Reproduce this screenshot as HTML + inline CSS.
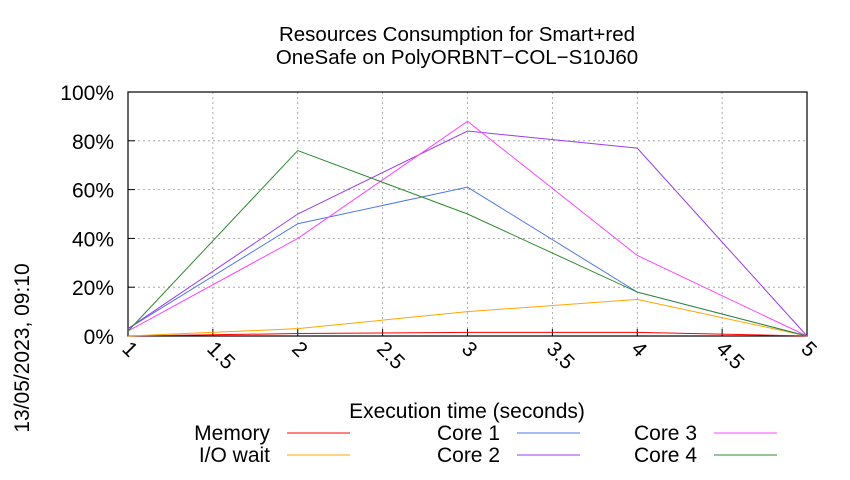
<!DOCTYPE html>
<html><head><meta charset="utf-8"><style>
body{margin:0;background:#fff}
svg text{font-family:"Liberation Sans",sans-serif;fill:#000}
</style></head><body>
<svg width="850" height="475" viewBox="0 0 850 475">
<text x="457" y="41" font-size="20.5" text-anchor="middle">Resources Consumption for Smart+red</text>
<text x="457" y="64" font-size="20.5" text-anchor="middle">OneSafe on PolyORBNT−COL−S10J60</text>
<text transform="translate(29,348) rotate(-90)" font-size="21" text-anchor="middle">13/05/2023, 09:10</text>
<text x="467" y="418" font-size="21" text-anchor="middle">Execution time (seconds)</text>
<g id="grid"></g><g id="axes"></g><g id="series"></g><g id="legend"></g>
</svg>
<script>
const xTicks=[1,1.5,2,2.5,3,3.5,4,4.5,5];
const yTicks=[0,20,40,60,80,100];
const xs=[1,2,3,4,5];
const seriesNames=["Memory","I/O wait","Core 1","Core 2","Core 3","Core 4"];
const seriesColors=["#ff0000","#ffa500","#4f78e8","#9a3cf0","#ff44ff","#2e8b2e"];
const memory=[0,1,1.5,1.5,0];
const ioWait=[0,3,10,15,0];
const core1=[3,46,61,18,0];
const core2=[3,50,84,77,0];
const core3=[2,40,88,33,0];
const core4=[2,76,50,18,0];
const allSeries=[memory,ioWait,core1,core2,core3,core4];
const L=128,R=807,T=92,B=336;
const sx=v=>L+(v-1)/(5-1)*(R-L);
const sy=v=>B-v/100*(B-T);
const NS="http://www.w3.org/2000/svg";
function mk(t,a,p){const e=document.createElementNS(NS,t);for(const k in a)e.setAttribute(k,a[k]);p.appendChild(e);return e;}
const grid=document.getElementById('grid'),axes=document.getElementById('axes'),ser=document.getElementById('series'),leg=document.getElementById('legend');
xTicks.forEach(v=>{
 const g=mk('line',{x1:sx(v),x2:sx(v),y1:T,y2:B,stroke:'#999','stroke-dasharray':'2,3','stroke-width':0.8},grid);
 
 
 const tk=mk('line',{x1:sx(v),x2:sx(v),y1:B,y2:B-7,stroke:'#000','stroke-width':1},axes);
 
 
 const t=mk('text',{transform:`translate(${sx(v)-7},${B+14}) rotate(45)`,'font-size':21},axes);
 t.textContent=v;
 
 
});
yTicks.forEach(v=>{
 const g=mk('line',{x1:L,x2:R,y1:sy(v),y2:sy(v),stroke:'#999','stroke-dasharray':'2,3','stroke-width':0.8},grid);
 
 
 const tk=mk('line',{x1:L,x2:L+7,y1:sy(v),y2:sy(v),stroke:'#000','stroke-width':1},axes);
 
 
 const t=mk('text',{x:L-14,y:sy(v)+8,'font-size':21,'text-anchor':'end'},axes);
 t.textContent=v+'%';
 
 
});
const frame=mk('rect',{x:L,y:T,width:R-L,height:B-T,fill:'none',stroke:'#000','stroke-width':1.2},axes);


allSeries.forEach((d,i)=>{
 const p=mk('polyline',{points:d.map((v,j)=>sx(xs[j])+','+sy(v)).join(' '),fill:'none',stroke:seriesColors[i],'stroke-width':1},ser);
 
 
});
const legPos=[[270,433],[270,455],[500,433],[500,455],[697,433],[697,455]];
seriesNames.forEach((n,i)=>{
 const [x,y]=legPos[i];
 const t=mk('text',{x:x,y:y+7,'font-size':21,'text-anchor':'end'},leg);
 t.textContent=n;
 
 
 const l=mk('line',{x1:x+17,x2:x+80,y1:y,y2:y,stroke:seriesColors[i],'stroke-width':1},leg);
 
 
});
</script>
</body></html>
